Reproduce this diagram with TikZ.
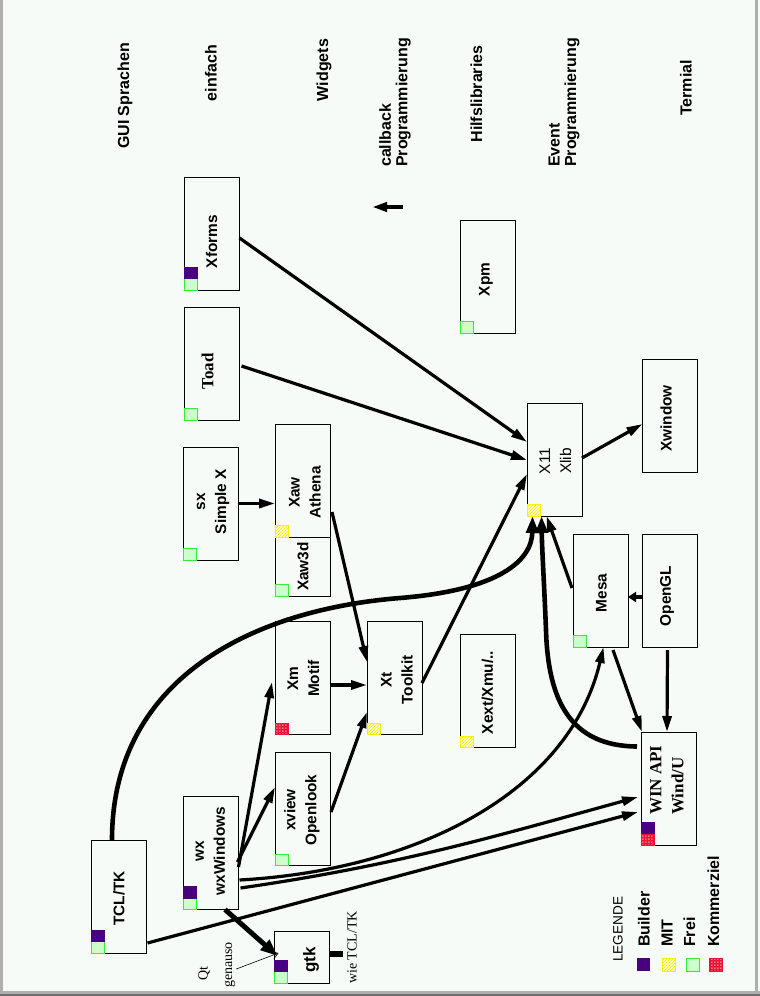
\documentclass[tikz,border=0pt]{standalone}
\usepackage{fontspec}
\setmainfont{Liberation Serif}
\setsansfont{Liberation Sans}
\usetikzlibrary{arrows.meta,calc,patterns}
\pgfdeclarepatternformonly{finedots}{\pgfpointorigin}{\pgfqpoint{3pt}{3pt}}{\pgfqpoint{3pt}{3pt}}{%
  \pgfpathrectangle{\pgfqpoint{0.4pt}{0.4pt}}{\pgfqpoint{1.3pt}{1.3pt}}%
  \pgfusepath{fill}}
\definecolor{bg}{RGB}{246,251,248}
\definecolor{builder}{RGB}{72,0,128}
\definecolor{freifill}{RGB}{204,255,204}
\definecolor{freiline}{RGB}{51,238,51}
\definecolor{mitline}{RGB}{250,240,0}
\definecolor{mitfill}{RGB}{255,255,205}
\definecolor{komm}{RGB}{235,20,55}
\definecolor{framegray}{RGB}{175,175,175}
\definecolor{framedark}{RGB}{110,110,110}
\tikzset{
  box/.style={draw=black, line width=1pt, minimum width=55pt, minimum height=113pt, inner sep=0pt, outer sep=0pt},
  lbl/.style={rotate=90, font=\sffamily\bfseries\fontsize{15.4}{21}\selectfont, align=center, inner sep=0pt},
  lblreg/.style={rotate=90, font=\sffamily\fontsize{15.4}{21}\selectfont, align=center, inner sep=0pt},
  lblser/.style={rotate=90, font=\rmfamily\bfseries\fontsize{17}{22}\selectfont, align=left, inner sep=0pt},
  hdr/.style={rotate=90, font=\sffamily\bfseries\fontsize{16}{16.5}\selectfont, inner sep=0pt},
  note/.style={rotate=90, font=\rmfamily\fontsize{14}{16}\selectfont, inner sep=0pt},
  badge/.style={minimum width=13pt, minimum height=11.5pt, inner sep=0pt, outer sep=0pt, line width=1pt, anchor=south west},
  bld/.style={badge, fill=builder, draw=builder},
  frei/.style={badge, fill=freifill, draw=freiline},
  mit/.style={badge, preaction={fill=mitfill}, pattern=north east lines, pattern color=mitline, draw=mitline},
  komm/.style={badge, preaction={fill=komm}, pattern=finedots, pattern color=white, draw=komm},
  swatch/.style={minimum width=13pt, minimum height=13pt, inner sep=0pt},
  arr/.style={line width=3.2pt, -{Triangle[length=16pt,width=9pt]}},
  arrthick/.style={line width=4.6pt, -{Triangle[length=17pt,width=12pt]}},
  arrshort/.style={line width=3.2pt, -{Triangle[length=8pt,width=10pt]}},
  thinarr/.style={line width=0.6pt, -{Straight Barb[length=6pt,width=8pt]}},
}
\begin{document}
\begin{tikzpicture}[x=1pt,y=-1pt]
\fill[bg] (0,0) rectangle (760,996);
\useasboundingbox (0,0) rectangle (760,996);
\fill[framegray] (0,0) rectangle (2.5,991);
\fill[framegray] (754.5,0) rectangle (757.5,996);
\fill[framegray] (0,990.5) rectangle (760,993.5);
\fill[framedark] (0,993.5) rectangle (760,996);

% headers
\node[hdr] (h1) at (125,96) {GUI Sprachen};
\node[hdr] (h2) at (211,73) {einfach};
\node[hdr] (h3) at (324,70) {Widgets};
\node[hdr, anchor=west, align=left] (h4) at (395,167) {callback\\Programmierung};
\node[hdr] (h5) at (476.5,94) {Hilfslibraries};
\node[hdr, anchor=west, align=left] (h6) at (564,167) {Event\\Programmierung};
\node[hdr] (h7) at (686,88) {Termial};

% boxes
\node[box] (xforms) at (212,233.5) {};
\node[box] (toad) at (212,363.5) {};
\node[box] (xpm) at (487.5,276.5) {};
\node[box] (x11) at (554.5,459.5) {};
\node[box] (xwindow) at (670,416) {};
\node[box] (sx) at (210.5,503.5) {};
\node[box] (xaw) at (302.5,480.5) {};
\node[box, minimum height=59pt] (xaw3d) at (302.5,566.5) {};
\node[box] (xm) at (302.5,678) {};
\node[box] (xt) at (394.5,678) {};
\node[box] (xext) at (487.5,691) {};
\node[box] (mesa) at (600.5,590.5) {};
\node[box] (opengl) at (669.5,590.5) {};
\node[box] (winapi) at (668.5,788.5) {};
\node[box] (tcl) at (119,896.5) {};
\node[box] (wx) at (211,853) {};
\node[box] (xview) at (302.5,809) {};
\node[box, minimum height=52pt] (gtk) at (302,957) {};

% labels
\node[lbl] (xformsL) at (211.5,241.5) {Xforms};
\node[lblser] (toadL) at (207.5,371.5) {Toad};
\node[lbl] (xpmL) at (486,279.5) {Xpm};
\node[lblreg] (x11L) at (555.5,461) {X11\\Xlib};
\node[lbl] (xwindowL) at (666,418.5) {Xwindow};
\node[lbl] (sxL) at (213,501.5) {sx\\Simple X};
\node[lbl] (xawL) at (305,492.5) {Xaw\\Athena};
\node[lbl] (xaw3dL) at (303,566.5) {Xaw3d};
\node[lbl] (xmL) at (303.5,678.5) {Xm\\Motif};
\node[lbl] (xtL) at (397,680) {Xt\\Toolkit};
\node[lbl] (xextL) at (487.5,692.5) {Xext/Xmu/..};
\node[lbl] (mesaL) at (601.5,593) {Mesa};
\node[lbl] (openglL) at (667,596) {OpenGL};
\node[lblser, anchor=west] (winapiL) at (667,815) {WIN API\\Wind/U};
\node[lbl] (tclL) at (119,898.5) {TCL/TK};
\node[lbl] (wxL) at (210.5,851) {wx\\wxWindows};
\node[lbl] (xviewL) at (302,810) {xview\\Openlook};
\node[lbl, font=\sffamily\bfseries\fontsize{17}{20}\selectfont] (gtkL) at (311,960) {gtk};

% badges
\node[frei] (xformsF) at (xforms.south west) {};
\node[bld] (xformsB) at (xformsF.north west) {};
\node[frei] (toadF) at (toad.south west) {};
\node[frei] (xpmF) at (xpm.south west) {};
\node[mit] (x11M) at (x11.south west) {};
\node[frei] (sxF) at (sx.south west) {};
\node[mit] (xawM) at (xaw.south west) {};
\node[frei] (xaw3dF) at (xaw3d.south west) {};
\node[komm] (xmK) at (xm.south west) {};
\node[mit] (xtM) at (xt.south west) {};
\node[mit] (xextM) at (xext.south west) {};
\node[frei] (mesaF) at (mesa.south west) {};
\node[komm] (winapiK) at (winapi.south west) {};
\node[bld] (winapiB) at (winapiK.north west) {};
\node[frei] (tclF) at (tcl.south west) {};
\node[bld] (tclB) at (tclF.north west) {};
\node[frei] (wxF) at (wx.south west) {};
\node[bld] (wxB) at (wxF.north west) {};
\node[frei] (xviewF) at (xview.south west) {};
\node[frei] (gtkF) at (gtk.south west) {};
\node[bld] (gtkB) at (gtkF.north west) {};

% notes
\node[note] (qt) at (204,973.5) {Qt};
\node[note] (genauso) at (230,965) {genauso};
\node[note] (wietcl) at (352,947.5) {wie TCL/TK};

% legend
\node[rotate=90, font=\sffamily\fontsize{13.6}{15}\selectfont, inner sep=0pt, anchor=west] (legT) at (618,962) {LEGENDE};
\node[hdr, anchor=west] (legB) at (644,947) {Builder};
\node[hdr, anchor=west] (legM) at (667,947) {MIT};
\node[hdr, anchor=west] (legF) at (689.5,947) {Frei};
\node[hdr, anchor=west] (legK) at (713.5,947) {Kommerziel};
\node[swatch, fill=builder] (swB) at (643.5,964.5) {};
\node[swatch, preaction={fill=mitfill}, pattern=north east lines, pattern color=mitline, draw=mitline, line width=1pt] (swM) at (669,964.5) {};
\node[swatch, fill=freifill, draw=freiline, line width=1pt] (swF) at (692.5,964.5) {};
\node[swatch, preaction={fill=komm}, pattern=finedots, pattern color=white, draw=komm, line width=1pt] (swK) at (716,964.5) {};

% callback indicator arrow
\coordinate (cbA) at (403,207);
\coordinate (cbB) at (372,207);
\draw[line width=4pt, -{Triangle[length=15pt,width=9pt]}] (cbA) -- (cbB);

% connectors
\draw[arr] ($(xforms.east)+(0,4.5)$) -- ($(x11.west)+(0,-17.5)$);
\draw[arr] ($(toad.east)+(2,2.5)$) -- ($(x11.west)+(0,0.5)$);
\draw[arr] (sx.east) -- ($(xaw.west)+(0,23)$);
\draw[arr] ($(xaw.east)+(2,31.5)$) -- ($(xt.west)+(0,-16)$);
\draw[arr] ($(xm.east)+(0,7)$) -- ($(xt.west)+(0,7)$);
\draw[arr] ($(xt.east)+(0,5)$) -- ($(x11.west)+(0,14.5)$);
\draw[arr] ($(x11.east)+(0,-1.5)$) -- ($(xwindow.west)+(0,8)$);
\draw[arrthick] ($(tcl.north)+(-7,0)$) .. controls (112,680) and (250,610) .. (400,598) .. controls (500,590) and (532,560) .. ($(x11.south)+(-22,0)$);
\draw[arr] ($(mesa.west)+(-1,-2.5)$) -- ($(x11.south)+(-8,0)$);
\draw[arrthick] ($(winapi.west)+(-4,-42)$) .. controls (570,746) and (548,700) .. (546,630) .. controls (544,580) and (542,550) .. ($(x11.south)+(-13,0)$);
\draw[arr] ($(mesa.south)+(12.5,3)$) -- ($(winapi.north west)+(1,0)$);
\draw[arr] ($(opengl.south)+(-2,3)$) -- ($(winapi.north)+(-1.5,0)$);
\draw[arrshort] ($(opengl.west)+(0,6.5)$) -- ($(mesa.east)+(0,6.5)$);
\draw[arr] ($(wx.east)+(1,27)$) .. controls (420,870) and (570,790) .. ($(mesa.south)+(3,0)$);
\draw[arr] ($(wx.east)+(2,35)$) .. controls (400,865) and (500,835) .. ($(winapi.west)+(-3,8.5)$);
\draw[arr] ($(tcl.east)+(1,46.5)$) -- ($(winapi.west)+(-3,23.5)$);
\draw[arr] ($(wx.east)+(-1,9)$) -- ($(xview.west)+(0,-22)$);
\draw[arr] ($(wx.east)+(0,14)$) -- ($(xm.west)+(-3,4)$);
\draw[arr] ($(xview.east)+(1,3)$) -- ($(xt.west)+(0,34)$);
\draw[line width=5pt, -{Triangle[length=17pt,width=13pt]}] ($(wx.south)+(14,0)$) -- ($(gtk.west)+(3,-1)$);
\coordinate (gtkstub) at (343,954);
\draw[line width=6pt] ($(gtk.east)+(0,-3)$) -- (gtkstub);
\draw[thinarr] ($(genauso.south)+(1,4)$) -- ($(gtk.west)+(4,-4)$);
\end{tikzpicture}
\end{document}
